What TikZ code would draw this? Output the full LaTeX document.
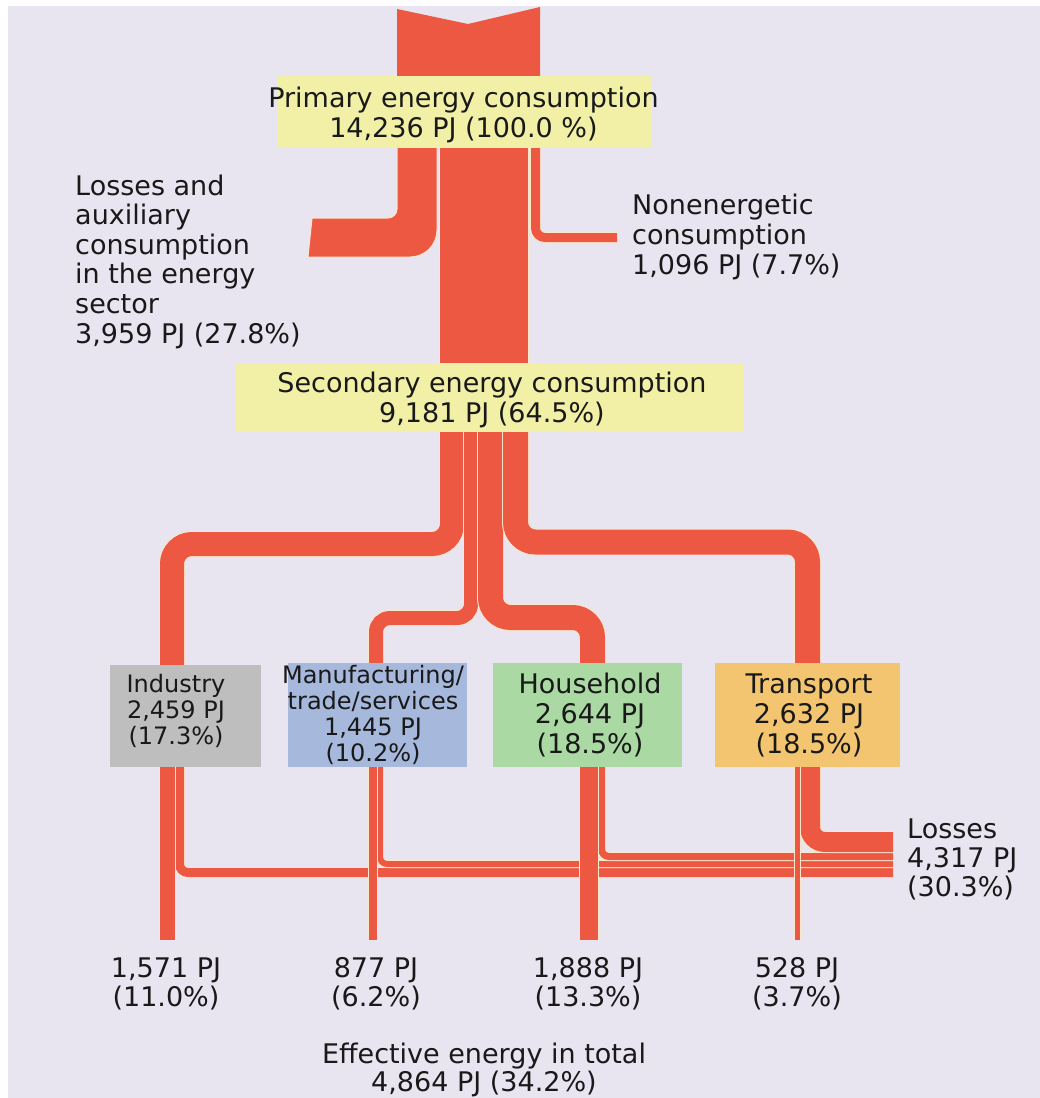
\documentclass[tikz,border=0pt]{standalone}
\usepackage{fontspec}
\setmainfont{DejaVu Sans}
\definecolor{bgcol}{RGB}{232,229,240}
\definecolor{flowcol}{RGB}{236,88,66}
\definecolor{sepcol}{RGB}{250,232,205}
\definecolor{yelcol}{RGB}{241,240,166}
\definecolor{graycol}{RGB}{190,190,190}
\definecolor{bluecol}{RGB}{166,184,219}
\definecolor{greencol}{RGB}{170,217,163}
\definecolor{orangecol}{RGB}{243,197,112}
\definecolor{txtcol}{RGB}{25,25,25}
\newcommand\sflow[3]{%
  \draw[sepcol, line width=#1pt+2pt, rounded corners=#2pt] #3;
  \draw[flowcol, line width=#1pt, rounded corners=#2pt] #3;}
\tikzset{
  lab/.style={anchor=base, inner sep=0pt, text=txtcol, font=\fontsize{27}{30}\selectfont},
  labw/.style={lab, anchor=base west},
  labs/.style={lab, font=\fontsize{24}{26}\selectfont},
  panel/.style={inner sep=0pt, draw=none},
}
\begin{document}
\begin{tikzpicture}[x=1pt, y=-1pt]
\useasboundingbox (0,0) rectangle (1040,1098);
\fill[white] (0,0) rectangle (1040,1098);
\fill[bgcol] (8,6) rectangle (1040,1098);

% top incoming flow with notch
\fill[flowcol] (397,9) -- (468,24) -- (540,7) -- (540,146) -- (397,146) -- cycle;

% losses in energy sector
\filldraw[fill=flowcol, draw=sepcol, line width=1pt]
  (397,145) -- (397,209) .. controls (397,214) and (393,218) .. (388,218)
  -- (312,218) -- (308,257) -- (410,257) .. controls (425,257) and (437,245) .. (437,230)
  -- (437,145) -- cycle;
% nonenergetic
\sflow{9}{9.5}{(535.5,145) -- (535.5,237.5) -- (617,237.5)}
% secondary
\sflow{88}{1}{(484,145) -- (484,405)}

% sectors
\sflow{24}{20}{(452,400) -- (452,544) -- (172,544) -- (172,666)}
\sflow{14}{14}{(471,400) -- (471,618) -- (376,618) -- (376,666)}
\sflow{25}{20}{(490.5,400) -- (490.5,617.5) -- (592.5,617.5) -- (592.5,666)}
\sflow{25}{20}{(515.5,400) -- (515.5,542) -- (807.5,542) -- (807.5,666)}

% losses at the bottom
\sflow{9}{8.5}{(179.5,760) -- (179.5,872.5) -- (893,872.5)}
\sflow{6}{7}{(380,760) -- (380,864) -- (893,864)}
\sflow{7}{7.5}{(601.5,760) -- (601.5,856.5) -- (893,856.5)}
\sflow{20}{15}{(810,760) -- (810,842) -- (893,842)}

% effective energy
\sflow{15}{1}{(167.5,760) -- (167.5,940)}
\sflow{8}{1}{(373,760) -- (373,940)}
\sflow{18}{1}{(589,760) -- (589,940)}
\sflow{5}{1}{(797.5,760) -- (797.5,940)}

% boxes
\node[panel, fill=yelcol, minimum width=374pt, minimum height=72pt] (pbox) at (465,112) {};
\node[panel, fill=yelcol, minimum width=508pt, minimum height=69pt] (sbox) at (489,397.5) {};
\node[panel, fill=graycol, minimum width=151pt, minimum height=102pt] (ibox) at (185.5,716) {};
\node[panel, fill=bluecol, minimum width=179pt, minimum height=104pt] (mbox) at (377.5,715) {};
\node[panel, fill=greencol, minimum width=189pt, minimum height=104pt] (hbox) at (587.5,715) {};
\node[panel, fill=orangecol, minimum width=185pt, minimum height=104pt] (tbox) at (807.5,715) {};

% box texts
\node[lab] (p1) at (463.5,107) {Primary energy consumption};
\node[lab] (p2) at (463.5,137) {14,236 PJ (100.0 \%)};
\node[lab] (s1) at (492,392) {Secondary energy consumption};
\node[lab] (s2) at (492,422) {9,181 PJ (64.5\%)};

\node[labs] (i1) at (176,692) {Industry};
\node[labs] (i2) at (176,718) {2,459 PJ};
\node[labs] (i3) at (176,744) {(17.3\%)};

\node[labs] (m1) at (373,683) {Manufacturing/};
\node[labs] (m2) at (373,709) {trade/services};
\node[labs] (m3) at (373,735) {1,445 PJ};
\node[labs] (m4) at (373,761) {(10.2\%)};

\node[lab] (h1) at (590,693) {Household};
\node[lab] (h2) at (590,723) {2,644 PJ};
\node[lab] (h3) at (590,753) {(18.5\%)};

\node[lab] (t1) at (809,693) {Transport};
\node[lab] (t2) at (809,723) {2,632 PJ};
\node[lab] (t3) at (809,753) {(18.5\%)};

% side labels
\node[labw] (l1) at (75,195) {Losses and};
\node[labw] (l2) at (75,224.6) {auxiliary};
\node[labw] (l3) at (75,254.2) {consumption};
\node[labw] (l4) at (75,283.8) {in the energy};
\node[labw] (l5) at (75,313.4) {sector};
\node[labw] (l6) at (75,343) {3,959 PJ (27.8\%)};

\node[labw] (n1) at (632,214) {Nonenergetic};
\node[labw] (n2) at (632,244) {consumption};
\node[labw] (n3) at (632,274) {1,096 PJ (7.7\%)};

\node[labw] (r1) at (907,838) {Losses};
\node[labw] (r2) at (907,867) {4,317 PJ};
\node[labw] (r3) at (907,896) {(30.3\%)};

% bottom labels
\node[lab] (e1a) at (166,977) {1,571 PJ};
\node[lab] (e1b) at (166,1006) {(11.0\%)};
\node[lab] (e2a) at (376,977) {877 PJ};
\node[lab] (e2b) at (376,1006) {(6.2\%)};
\node[lab] (e3a) at (588,977) {1,888 PJ};
\node[lab] (e3b) at (588,1006) {(13.3\%)};
\node[lab] (e4a) at (797,977) {528 PJ};
\node[lab] (e4b) at (797,1006) {(3.7\%)};

\node[lab] (tot1) at (484,1063) {Effective energy in total};
\node[lab] (tot2) at (484,1091) {4,864 PJ (34.2\%)};
\end{tikzpicture}
\end{document}
